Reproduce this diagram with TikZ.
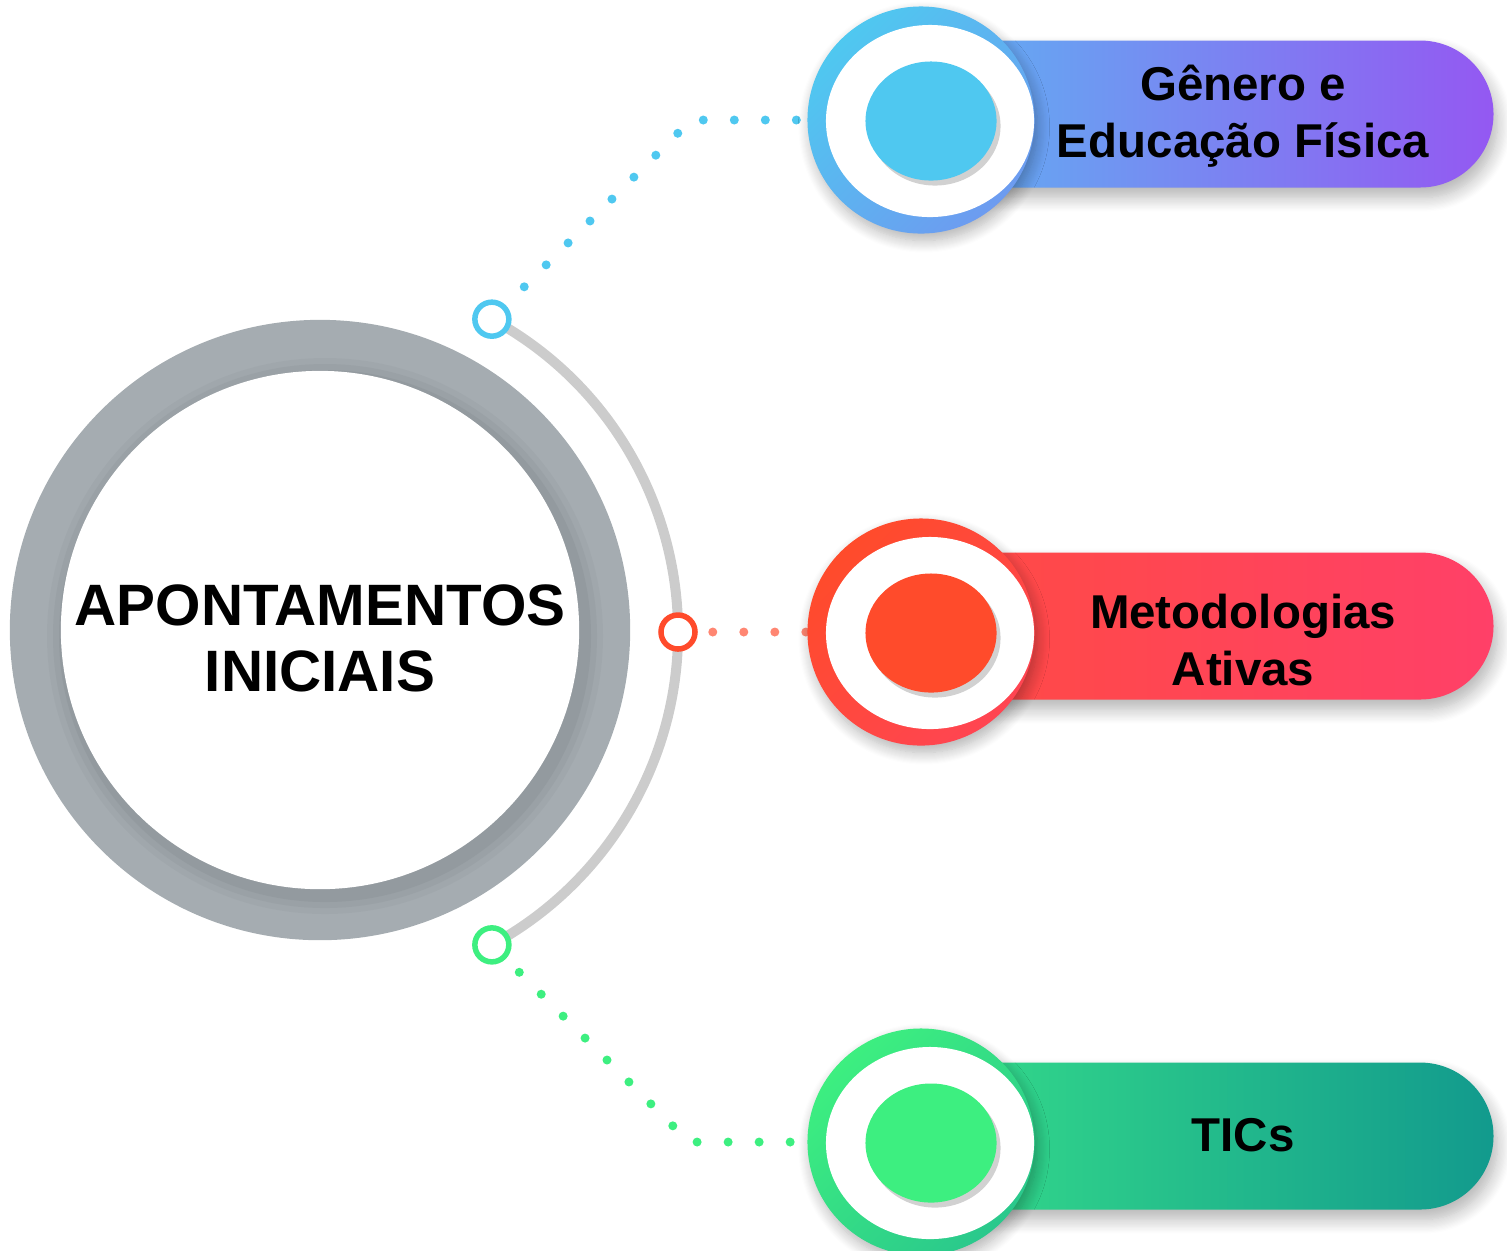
\documentclass[tikz,border=0pt]{standalone}
\usepackage{fontspec}
\setmainfont{Liberation Sans}
\usetikzlibrary{calc,shapes.geometric,shadows,shadows.blur,backgrounds}

\definecolor{skyA}{HTML}{4FC8F0}
\definecolor{skyB}{HTML}{6D9BF0}
\definecolor{skybarL}{HTML}{62ADF2}
\definecolor{skybarR}{HTML}{9458F2}
\definecolor{redA}{HTML}{FF4B2B}
\definecolor{redB}{HTML}{FF4552}
\definecolor{redbarL}{HTML}{FF4A45}
\definecolor{redbarR}{HTML}{FF4068}
\definecolor{reddot}{HTML}{FF8672}
\definecolor{greenA}{HTML}{3DEF80}
\definecolor{greenB}{HTML}{2AC88C}
\definecolor{greenbarL}{HTML}{33D98A}
\definecolor{greenbarR}{HTML}{129A8D}
\definecolor{hubgray}{HTML}{A5ACB1}
\definecolor{hubdark}{HTML}{7F878B}
\definecolor{arcgray}{HTML}{CCCCCC}

\tikzset{
    hubring/.style={circle, fill=hubgray, minimum size=6.2cm, inner sep=0pt},
    hubcore/.style={circle, fill=white, minimum size=5.18cm, inner sep=0pt},
    hubtext/.style={align=center, font=\bfseries\fontsize{16.6pt}{18.8pt}\selectfont},
    smallring/.style={circle, draw=#1, line width=0.055cm, fill=white, minimum size=0.34cm, inner sep=0pt},
    trail/.style={draw=#1, line width=0.09cm, line cap=round, dash pattern=on 0pt off 0.31cm, dash phase=0.06cm},
    orbitline/.style={draw=arcgray, line width=0.1cm},
    pillring/.style 2 args={circle, minimum size=2.27cm, inner sep=0pt, top color=#1, bottom color=#2, shading angle=45,
        blur shadow={shadow xshift=0.03cm, shadow yshift=-0.07cm, shadow blur radius=0.12cm, shadow blur steps=12, shadow opacity=30}},
    pillwhite/.style={ellipse, fill=white, minimum width=2.08cm, minimum height=1.92cm, inner sep=0pt},
    pilldot/.style={ellipse, fill=#1, minimum width=1.31cm, minimum height=1.19cm, inner sep=0pt,
        drop shadow={shadow xshift=0.04cm, shadow yshift=-0.05cm, opacity=0.18, fill=black}},
    pillbar/.style={blur shadow={shadow xshift=0.04cm, shadow yshift=-0.1cm, shadow blur radius=0.14cm, shadow blur steps=12, shadow opacity=30}},
    pilltext/.style={align=center, font=\bfseries\fontsize{13.5pt}{16.3pt}\selectfont},
}

\begin{document}
\begin{tikzpicture}[x=0.01cm, y=-0.01cm]
    \useasboundingbox (0,0) rectangle (1507,1250);
    % central circle
    \coordinate (hub) at (320,630);
    \coordinate (orbit) at (322,632);
    \node[hubring] (hubring) at (hub) {};
    \foreach \r/\o in {278/0.12, 272/0.18, 266/0.25}
        \fill[hubdark, opacity=\o] ($(hub)+(5,6)$) circle[radius=\r];
    \node[hubcore] (core) at (hub) {};
    \node[hubtext] (hubtxt) at ($(hub)+(0,8)$) {APONTAMENTOS\\INICIAIS};

    % small rings on the orbit
    \node[smallring=skyA] (pGen) at ($(orbit)+(-61.5:356)$) {};
    \node[smallring=redA] (pMet) at ($(orbit)+(0:356)$) {};
    \node[smallring=greenA] (pTic) at ($(orbit)+(61.5:356)$) {};

    % pills
    \foreach \tag/\y/\ty/\ca/\cb/\la/\lb/\txt in {
        Gen/120/-4/skyA/skyB/skybarL/skybarR/{Gênero e\\Educação Física},
        Met/632/8/redA/redB/redbarL/redbarR/{Metodologias\\Ativas},
        Tic/1142/-7/greenA/greenB/greenbarL/greenbarR/{TICs}}{
        \path[pillbar, left color=\la, right color=\lb] (960,\y-79.5) -- (1420,\y-79.5)
            arc[start angle=-90, end angle=90, radius=73.5] -- (960,\y+67.5) -- cycle;
        \node[pillring={\ca}{\cb}] (ring\tag) at (921,\y) {};
        \node[pillwhite] (hole\tag) at (930,\y+1) {};
        \node[pilldot=\ca] (dot\tag) at (931,\y+1) {};
        \node[pilltext] (txt\tag) at (1243,\y+\ty) {\txt};
    }

    \coordinate (bendGen) at (691,120);
    \coordinate (bendTic) at (689,1142);
    \begin{scope}[on background layer]
        \draw[orbitline] (pGen.center) arc[start angle=-61.5, end angle=61.5, radius=356];
        \draw[trail=skyA, dash phase=0.05cm] (pGen) -- (bendGen) -- (ringGen);
        \draw[trail=reddot, dash phase=0.16cm] (pMet) -- (ringMet);
        \draw[trail=greenA, dash phase=0.12cm] (pTic) -- (bendTic) -- (ringTic);
    \end{scope}
\end{tikzpicture}
\end{document}
